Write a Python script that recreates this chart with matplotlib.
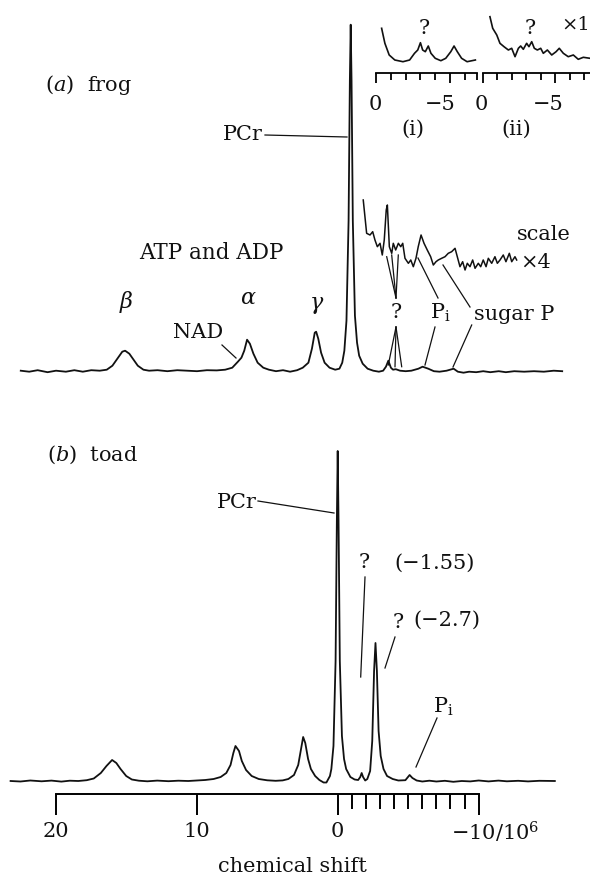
import matplotlib
matplotlib.use("Agg")
import matplotlib.pyplot as plt
from matplotlib.lines import Line2D

plt.rcParams["font.family"] = "DejaVu Serif"
plt.rcParams["mathtext.fontset"] = "dejavuserif"

# ---- data (chemical shift in ppm, intensity in arbitrary units) ----

# (a) frog, full spectrum
frog_ppm = [23.4, 22.8, 22.2, 21.5, 20.9, 20.2, 19.6, 19.0, 18.4, 17.8, 17.3, 16.9, 16.5,
            16.2, 16.0, 15.7, 15.4, 15.1, 14.7, 14.3, 13.7, 13.0, 12.3, 11.6, 10.9, 10.2,
            9.5, 8.9, 8.4, 8.0, 7.75, 7.55, 7.35, 7.15, 6.9, 6.6, 6.2, 5.8, 5.3, 4.8, 4.3,
            3.8, 3.4, 3.0, 2.75, 2.55, 2.45, 2.3, 2.1, 1.85, 1.5, 1.1, 0.8, 0.6, 0.45, 0.3,
            0.15, 0.06, 0.0, -0.06, -0.15, -0.3, -0.45, -0.6, -0.85, -1.2, -1.6, -2.0, -2.3,
            -2.5, -2.67, -2.85, -3.0, -3.2, -3.5, -3.9, -4.3, -4.8, -5.1, -5.5, -5.9, -6.3,
            -6.8, -7.3, -7.6, -8.0, -8.4, -8.9, -9.4, -9.9, -10.5, -11.0, -11.6, -12.3,
            -13.0, -13.7, -14.4, -15.0]
frog_int = [0, -1, 0.5, -1.5, 0, -1, 0.5, -1, 0.5, 0, 1, 5, 13,
            19, 20, 17, 11, 5, 1, 0, 0.5, -0.5, 0.5, 0, -0.5, 0.5,
            0.3, 1, 3, 9, 13, 20, 31, 27, 17, 8, 3, 1, -0.5, 0.5, -1,
            0.5, 3, 8, 22, 38, 39, 32, 18, 8, 3, 1, 2, 8, 20, 50,
            150, 290, 346, 290, 150, 55, 28, 15, 7, 2, 0, -1, 0,
            4, 10, 3, 1, 1.5, 0, -0.5, 0, 2, 4, 2, -0.5, -1,
            0, 2, -1, -2, -1, -1.5, -0.5, -1.5, -0.5, -1.5, -0.5, -1,
            -0.5, -1, 0, -0.5]

# (a) frog, region scaled x4
frog_x4_ppm = [-0.89, -1.13, -1.37, -1.56, -1.72, -1.89, -2.08, -2.24, -2.38, -2.52, -2.6,
               -2.74, -2.91, -3.02, -3.19, -3.38, -3.55, -3.69, -3.85, -4.09, -4.26, -4.44,
               -4.63, -4.79, -4.99, -5.2, -5.43, -5.67, -5.86, -6.05, -6.21, -6.45, -6.69,
               -6.92, -7.16, -7.4, -7.56, -7.75, -7.94, -8.11, -8.27, -8.46, -8.65, -8.82,
               -9.05, -9.22, -9.4, -9.6, -9.76, -10.0, -10.23, -10.4, -10.59, -10.82,
               -11.01, -11.25, -11.42, -11.65, -11.77]
frog_x4_int = [170.7, 137.4, 135.7, 139, 130.7, 124, 127.4, 115.7, 130.7, 160.7, 165.7,
               124, 117.4, 127.4, 120.7, 127.4, 124, 127.4, 112.4, 107.4, 110.7, 104,
               112.4, 124, 135.7, 127.4, 120.7, 114, 105.7, 109, 110.7, 112.4, 114,
               117.4, 119, 122.4, 114, 104, 109, 100.7, 107.4, 104, 110.7, 102.4,
               107.4, 104, 110.7, 104, 112.4, 107.4, 114, 107.4, 110.7, 115.7,
               109, 117.4, 109, 114, 110.7]

# inset (i)
inset1_ppm = [-0.38, -0.6, -0.89, -1.27, -1.82, -2.27, -2.6, -2.82, -3.0, -3.15, -3.33,
              -3.53, -3.71, -4.0, -4.38, -4.71, -5.05, -5.27, -5.49, -5.78, -6.15, -6.71]
inset1_int = [33.4, 18.4, 6.7, 1.7, 0, 1.7, 8.4, 11.7, 19, 11.7, 10,
              15.7, 8.4, 3.4, 1, 3.4, 10, 15.7, 10, 3.4, 0, 1.7]

# inset (ii)
inset2_ppm = [-0.5, -0.69, -0.97, -1.19, -1.47, -1.77, -2.0, -2.23, -2.46, -2.62, -2.8,
              -3.03, -3.19, -3.38, -3.56, -3.77, -4.0, -4.18, -4.46, -4.76, -5.06, -5.28,
              -5.56, -5.9, -6.25, -6.59, -6.94, -7.4]
inset2_int = [45, 33.4, 26.7, 18.4, 15, 11.7, 13.4, 5, 13.4, 15.7, 12.4,
              18.4, 15, 20, 13.4, 11.7, 13.4, 8.4, 11.7, 6.7, 10, 13.4,
              8.4, 5, 6.7, 2.4, 4.4, 3.4]

# (b) toad
toad_ppm = [23.2, 22.5, 21.8, 21.0, 20.3, 19.6, 19.0, 18.4, 17.8, 17.3, 16.8, 16.4, 16.0,
            15.7, 15.4, 15.0, 14.6, 14.1, 13.5, 12.8, 12.0, 11.3, 10.6, 10.0, 9.4, 8.8,
            8.3, 7.9, 7.6, 7.4, 7.25, 7.0, 6.8, 6.5, 6.1, 5.6, 5.0, 4.4, 3.9, 3.5, 3.1,
            2.8, 2.6, 2.45, 2.3, 2.1, 1.9, 1.6, 1.3, 1.0, 0.8, 0.55, 0.45, 0.3, 0.15, 0.06,
            0.0, -0.06, -0.15, -0.3, -0.45, -0.6, -0.9, -1.2, -1.45, -1.6, -1.7, -1.8,
            -1.95, -2.1, -2.3, -2.45, -2.58, -2.68, -2.78, -2.9, -3.05, -3.25, -3.5, -3.9,
            -4.3, -4.8, -5.1, -5.3, -5.6, -6.0, -6.5, -7.0, -7.6, -8.2, -8.8, -9.4, -10.0,
            -10.7, -11.4, -12.0, -12.8, -13.5, -14.3, -15.4]
toad_int = [0, -0.5, 0.5, -0.3, 0.4, -0.6, 0.3, 0, 0.8, 2.5, 8, 15, 21,
            18, 12, 5, 1.5, 0.3, -0.3, 0.4, -0.2, 0.3, 0, 0.5, 1, 2,
            4, 8, 16, 28, 35, 30, 20, 11, 5, 2, 0.7, 0.2, 0.6, 2, 6,
            16, 32, 44, 38, 22, 12, 5, 1, -1.5, -1.5, 5, 12, 35, 120, 260,
            330, 260, 120, 45, 22, 12, 4, 1.5, 1, 4, 8, 4,
            0.5, 2, 10, 40, 110, 138, 110, 50, 25, 12, 5, 2,
            0.5, 0.8, 6, 3, 0.5, -0.5, 0.3, -0.5, 0.2, -0.8, 0, -0.4, 0.5,
            -0.4, 0.4, -0.3, 0.2, -0.4, 0.2, 0]

# ---- figure ----
W, H = 590, 875
INK = "#111111"
fig = plt.figure(figsize=(W / 100, H / 100), dpi=100)


def box(l, t, r, b):
    return [l / W, 1 - b / H, (r - l) / W, (b - t) / H]


def label(x, y, s, size=15, ha="center", va="center"):
    fig.text(x / W, 1 - y / H, s, fontsize=size, ha=ha, va=va, color=INK)


def leader(x1, y1, x2, y2):
    fig.add_artist(Line2D([x1 / W, x2 / W], [1 - y1 / H, 1 - y2 / H],
                          transform=fig.transFigure, color=INK, lw=0.9))


# (a) frog
ax_a = fig.add_axes(box(0, 0, 590, 400))
ax_a.plot(frog_ppm, frog_int, color=INK, lw=1.3)
ax_a.plot(frog_x4_ppm, frog_x4_int, color=INK, lw=1.1)
ax_a.set_xlim(350.7 / 14.1, (350.7 - 590) / 14.1)
ax_a.set_ylim(-29.3, 370.7)
ax_a.axis("off")

# insets (i) and (ii)
for pos, xmax, ppm, inten, minors in [
        (box(376, 10, 477, 72.7), -6.82, inset1_ppm, inset1_int, [-1, -2, -3, -4, -6, -6.82]),
        (box(482.7, 10, 590, 72.7), -7.4, inset2_ppm, inset2_int, [-1, -2, -3, -4, -6, -7])]:
    ax = fig.add_axes(pos)
    ax.plot(ppm, inten, color=INK, lw=1.2)
    ax.set_xlim(0, xmax)
    ax.set_ylim(-11, 51.7)
    for s in ["top", "right", "left"]:
        ax.spines[s].set_visible(False)
    ax.spines["bottom"].set_linewidth(1.3)
    ax.patch.set_visible(False)
    ax.set_yticks([])
    ax.set_xticks([0, -5])
    ax.set_xticklabels(["", ""])
    ax.set_xticks(minors, minor=True)
    ax.tick_params(which="major", direction="out", length=7, width=1.3)
    ax.tick_params(which="minor", direction="out", length=5, width=1.3)

label(375, 104, "0")
label(456, 104, "−5", ha="right")
label(481.7, 104, "0")
label(563.3, 104, "−5", ha="right")
label(413.3, 129, "(i)")
label(516.7, 129, "(ii)")
label(424, 28, "?")
label(530, 28, "?")
label(561, 25, "×1", size=14, ha="left")

label(45, 85, "($\\it{a}$)  frog", ha="left")
label(263, 135, "PCr", ha="right")
leader(265, 135, 347, 137)
label(211.7, 253, "ATP and ADP", size=15.5)
label(126, 302, "$\\beta$", size=16)
label(248, 298, "$\\alpha$", size=16)
label(316.7, 305, "$\\gamma$", size=16)
label(198, 333, "NAD")
leader(222, 345, 236, 358)
label(396, 312, "?")
for x2, y2 in [(386.7, 256.7), (391.7, 255), (398.3, 255)]:
    leader(396, 298, x2, y2)
for x2, y2 in [(388.3, 365), (395, 366.7), (401.7, 366.7)]:
    leader(396, 327, x2, y2)
label(440, 313, "P$_\\mathrm{i}$")
leader(438, 298, 418, 258)
leader(435, 327, 425, 365)
label(514, 315, "sugar P")
leader(470, 307, 443, 265)
leader(471.7, 325, 453, 367)
label(517, 235, "scale", ha="left")
label(520, 262, "×4", ha="left")

# (b) toad
ax_b = fig.add_axes(box(0, 430, 590, 875))
ax_b.plot(toad_ppm, toad_int, color=INK, lw=1.3)
ax_b.set_xlim(337.7 / 14.1, (337.7 - 590) / 14.1)
ax_b.set_ylim(-94, 351)
ax_b.patch.set_visible(False)
for s in ["top", "right", "left"]:
    ax_b.spines[s].set_visible(False)
ax_b.spines["bottom"].set_position(("data", -13))
ax_b.spines["bottom"].set_bounds(-10, 20)
ax_b.spines["bottom"].set_linewidth(1.4)
ax_b.set_yticks([])
ax_b.set_xticks([20, 10, 0, -10])
ax_b.set_xticklabels(["20", "10", "0", ""])
ax_b.set_xticks(list(range(-1, -10, -1)), minor=True)
ax_b.tick_params(which="major", direction="out", length=15, width=1.4, pad=5,
                 labelsize=15, labelcolor=INK)
ax_b.tick_params(which="minor", direction="out", length=11, width=1.4)
ax_b.text(-8.04, -51, "−10/10$^6$", fontsize=15, ha="left", va="center", color=INK)
ax_b.text(3.24, -85, "chemical shift", fontsize=15, ha="center", va="center", color=INK)

label(47, 455, "($\\it{b}$)  toad", ha="left")
label(257, 502, "PCr", ha="right")
leader(258, 501, 334, 513)
label(364, 563, "?")
leader(365, 577, 360.7, 677)
label(435, 563, "(−1.55)")
label(398, 623, "?")
leader(395, 637, 385, 668)
label(447, 620, "(−2.7)")
label(443, 707, "P$_\\mathrm{i}$")
leader(437, 718, 416, 767)

fig.savefig("out.png", dpi=100)
